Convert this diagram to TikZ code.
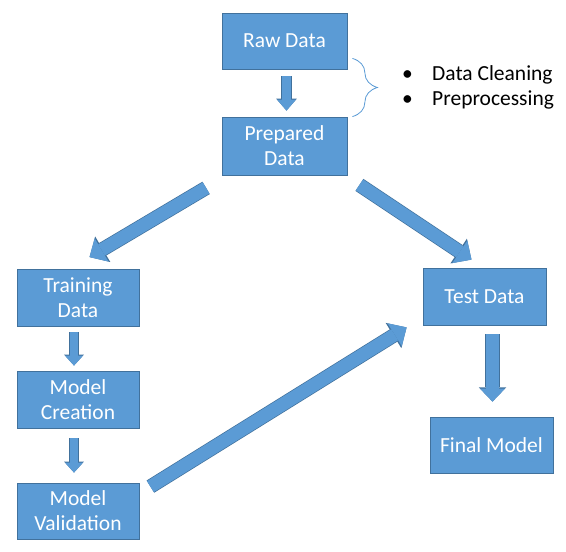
\documentclass[tikz,border=0pt]{standalone}
\usepackage{fontspec}
\setmainfont{Carlito}
\usetikzlibrary{arrows.meta,calc,decorations.pathreplacing}
\definecolor{boxblue}{HTML}{5B9BD5}
\definecolor{boxline}{HTML}{41719C}
\begin{document}
\begin{tikzpicture}[x=1pt,y=-1pt,
    every node/.style={font=\fontsize{21.5}{25}\selectfont},
    stage/.style={draw=boxline,fill=boxblue,text=white,line width=0.8pt,
      minimum width=122pt,minimum height=57pt,inner sep=0pt,align=center},
    flow/.style n args={3}{draw=boxblue,line width=#1,
      -{Triangle[width=#2,length=#3,line width=0pt]},
      preaction={draw=boxline,line width=#1+1.4pt,
        -{Triangle[width=#2,length=#3,line width=0pt,scale length=1.1,scale width=1.1]}}}]
  \useasboundingbox (0,0) rectangle (566,552);
  \node[stage,minimum width=125pt,minimum height=56pt] (raw) at (284.5,41) {Raw Data};
  \node[stage,minimum width=125pt,minimum height=58pt] (prep) at (284.5,146) {Prepared\\Data};
  \node[stage] (train) at (78,297.5) {Training\\Data};
  \node[stage] (create) at (78,399.5) {Model\\Creation};
  \node[stage,minimum height=56pt] (valid) at (78,511) {Model\\Validation};
  \node[stage,minimum width=123pt] (test) at (484.5,296.5) {Test Data};
  \node[stage,minimum width=123pt,minimum height=56pt] (final) at (491.5,445) {Final Model};
  \node[anchor=west,align=left,inner sep=0pt] (steps) at (402,87.5)
    {\makebox[30pt][l]{\textbullet}Data Cleaning\\\makebox[30pt][l]{\textbullet}Preprocessing};
  \draw[boxblue,line width=0.8pt,decorate,decoration={brace,amplitude=25pt}]
    ($(raw.south east)+(5,-11)$) -- ($(prep.north east)+(5,0)$);
  \draw[flow={9pt}{19pt}{11pt}] ($(raw.south)+(2,7)$) -- ($(prep.north)+(2,-6)$);
  \draw[flow={8pt}{18pt}{10pt}] ($(train.south)+(-4,6)$) -- ($(create.north)+(-4,-5)$);
  \draw[flow={8pt}{18pt}{10pt}] ($(create.south)+(-4,10)$) -- ($(valid.north)+(-4,-10)$);
  \draw[flow={13pt}{25pt}{13pt}] ($(test.south -| final.north)+(1,9)$) -- ($(final.north)+(1,-15)$);
  \draw[flow={13pt}{27pt}{14pt}] ($(prep.south west)+(-15.5,12.5)$) -- ($(train.north)+(11.5,-11.5)$);
  \draw[flow={13pt}{27pt}{14pt}] ($(prep.south east)+(12,9.5)$) -- ($(test.north)+(-13,-8)$);
  \draw[flow={13pt}{27pt}{14pt}] ($(valid.north east)+(11,4)$) -- ($(test.south west)+(-16,2)$);
\end{tikzpicture}
\end{document}
